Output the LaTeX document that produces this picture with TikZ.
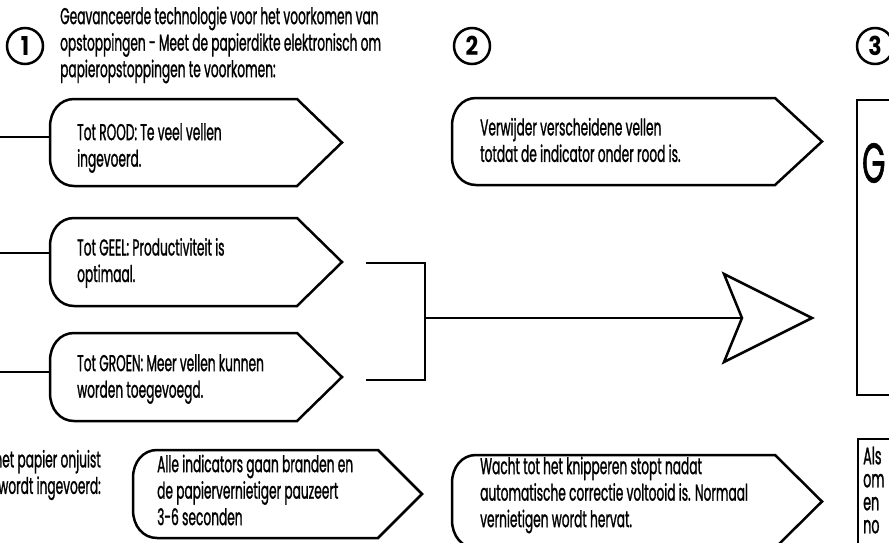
\documentclass[tikz,border=0pt]{standalone}
\usepackage{fontspec}
\setmainfont[FakeStretch=0.53, FakeBold=1]{Poppins}
\newfontfamily\numfont[FakeStretch=0.85]{Poppins Bold}
\newcommand\tagbox[5]{% left, top, straight end, tip, bottom
  \draw[ln] (#3,#2) -- (#1+24,#2) .. controls (#1+10,#2) and (#1,#2+12) .. (#1,#2+28)
    -- (#1,#5-28) .. controls (#1,#5-12) and (#1+10,#5) .. (#1+24,#5)
    -- (#3,#5) -- (#4,{(#2+#5)/2}) -- cycle;}
\begin{document}
\begin{tikzpicture}[x=1pt,y=-1pt]
\tikzset{
  ln/.style={line width=2.5pt, black, line join=miter},
  txt/.style={anchor=west, inner sep=0pt, align=left, font=\fontsize{23}{26.5}\selectfont},
  num/.style={circle, draw, line width=2.5pt, minimum size=36pt, inner sep=0pt,
              font=\numfont\fontsize{26}{26}\selectfont},
}
\useasboundingbox (0,0) rectangle (889,543);
\clip (0,0) rectangle (889,543);

% step numbers
\node[num] (n1) at (25,46) {1};
\node[num] (n2) at (472,46) {2};
\node[num] (n3) at (875,46) {3};

% step 1 heading
\node[txt] (head) at (60,45) {Geavanceerde technologie voor het voorkomen van\\opstoppingen - Meet de papierdikte elektronisch om\\papieropstoppingen te voorkomen:};

% indicator boxes
\tagbox{50}{99}{297}{342}{186}
\node[txt] (rood) at (77,148) {Tot ROOD: Te veel vellen\\ingevoerd.};
\tagbox{50}{218}{297}{342}{306}
\node[txt] (geel) at (77,263) {Tot GEEL: Productiviteit is\\optimaal.};
\tagbox{50}{333}{297}{342}{421}
\node[txt] (groen) at (77,379) {Tot GROEN: Meer vellen kunnen\\worden toegevoegd.};

% left connectors
\coordinate (l1) at (0,137);   \coordinate (r1) at (50,137);
\coordinate (l2) at (0,253);   \coordinate (r2) at (50,253);
\coordinate (l3) at (0,372);   \coordinate (r3) at (50,372);
\draw[ln] (l1) -- (r1);
\draw[ln] (l2) -- (r2);
\draw[ln] (l3) -- (r3);

% bracket and arrow
\coordinate (b1) at (366,263);
\coordinate (b2) at (366,380);
\coordinate (bj) at (425,318);
\coordinate (anotch) at (742,318);
\draw[ln] (b1) -- (bj |- b1) -- (bj |- b2) -- (b2);
\draw[ln] (bj) -- (anotch);
\draw[ln] (724,274) -- (812,318) -- (724,362) -- (anotch) -- cycle;

% step 2
\tagbox{452}{98}{775}{822}{185}
\node[txt] (verw) at (480,140) {Verwijder verscheidene vellen\\totdat de indicator onder rood is.};

% step 3 box
\draw[ln] (900,100) -- (857,100) -- (857,395) -- (900,395);
\node[anchor=west, inner sep=0pt, font=\fontsize{56}{56}\selectfont] (g) at (862,163) {G};

% bottom row
\node[txt, anchor=east, align=right] (onj) at (101,475) {het papier onjuist\\wordt ingevoerd:};
\tagbox{133}{450}{378}{422}{538}
\node[txt] (alle) at (157,490) {Alle indicators gaan branden en\\de papiervernietiger pauzeert\\3-6 seconden};
\tagbox{452}{455}{775}{822}{548}
\node[txt] (wacht) at (480,495) {Wacht tot het knipperen stopt nadat\\automatische correctie voltooid is. Normaal\\vernietigen wordt hervat.};
\draw[ln] (900,439) -- (858,439) -- (858,560);
\node[txt, font=\fontsize{24}{23}\selectfont] (als) at (863,490) {Als\\om\\en\\no};
\end{tikzpicture}
\end{document}
